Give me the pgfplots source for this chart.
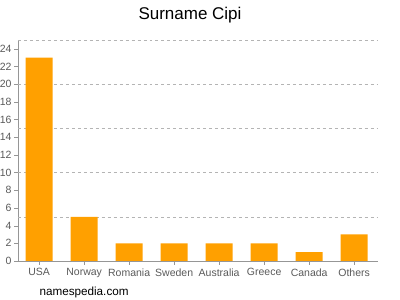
\documentclass[border=0pt]{standalone}
\usepackage{pgfplots}
\pgfplotsset{compat=1.18}
\usepackage{fontspec}
\setmainfont{Liberation Sans}
\definecolor{barorange}{RGB}{255,160,0}
\definecolor{axgray}{RGB}{150,150,150}
\definecolor{txtgray}{RGB}{90,90,90}
\definecolor{gridgray}{RGB}{180,180,180}
\begin{document}
\begin{tikzpicture}[x=1bp,y=1bp]
\path[use as bounding box] (0,0) rectangle (400,300);
\begin{axis}[
  at={(18bp,39bp)}, anchor=south west,
  scale only axis, width=360bp, height=221bp,
  xmin=-0.47, xmax=7.53, ymin=0, ymax=25,
  axis lines=left, axis line style={-, draw=axgray},
  xtick={0,...,7},
  xticklabels={USA,Norway,Romania,Sweden,Australia,Greece,Canada,Others},
  ytick={0,2,...,24},
  tick style={draw=axgray},
  major tick length=4bp,
  tick align=outside,
  ticklabel style={font=\fontsize{10.5bp}{12bp}\selectfont, text=txtgray},
  yticklabel style={xshift=1bp},
  /pgf/number format/assume math mode=true,
  extra y ticks={5,10,15,20,25},
  extra y tick labels={},
  extra y tick style={grid=major, major tick length=0pt, major grid style={draw=gridgray, dashed}},
  clip=false,
]
\addplot[ybar, bar width=27bp, fill=barorange, draw=none] coordinates {
(0,23) (1,5) (2,2) (3,2) (4,2) (5,2) (6,1) (7,3)};
\end{axis}
\node[font=\fontsize{17bp}{20bp}\selectfont, anchor=center] at (190,285) {Surname Cipi};
\node[font=\fontsize{11.7bp}{13bp}\selectfont, anchor=west] at (36,8) {namespedia.com};
\end{tikzpicture}
\end{document}
